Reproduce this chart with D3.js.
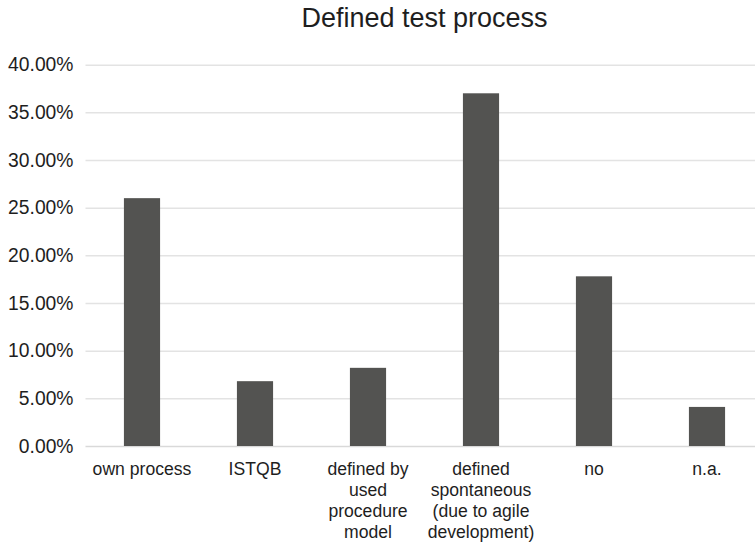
<!DOCTYPE html>
<html>
<head>
<meta charset="utf-8">
<script src="https://cdn.jsdelivr.net/npm/d3@7"></script>
<style>
  html, body { margin: 0; padding: 0; background: #fff; }
  svg { display: block; font-family: "Liberation Sans", Arial, Helvetica, sans-serif; }
</style>
</head>
<body>
<svg id="chart" width="755" height="545"></svg>
<script>
// Survey answers: how is the test process defined?
const categories = [
  "own process",
  "ISTQB",
  "defined by\nused\nprocedure\nmodel",
  "defined\nspontaneous\n(due to agile\ndevelopment)",
  "no",
  "n.a."
];
const shares = [0.260, 0.068, 0.082, 0.370, 0.178, 0.041];
const yTicks = [0, 0.05, 0.10, 0.15, 0.20, 0.25, 0.30, 0.35, 0.40];
const title = "Defined test process";

const svg = d3.select("#chart");
const plot = { left: 85.5, right: 763.5, top: 64.7, bottom: 446 };

const x = d3.scaleBand()
  .domain(categories)
  .range([plot.left, plot.right])
  .paddingInner(0.68)
  .paddingOuter(0.34);

const y = d3.scaleLinear()
  .domain([0, 0.4])
  .range([plot.bottom, plot.top]);

// Horizontal gridlines with percentage labels
const yAxis = svg.append("g")
  .attr("transform", `translate(${plot.left},0)`)
  .call(d3.axisLeft(y)
    .tickValues(yTicks)
    .tickFormat(d3.format(".2%"))
    .tickSize(-(plot.right - plot.left))
    .tickPadding(12));
yAxis.select(".domain").remove();
yAxis.selectAll(".tick line")
  .attr("stroke", d => d === 0 ? "#d9d9d9" : "#e3e3e3")
  .attr("stroke-width", 1.5);
yAxis.selectAll(".tick text")
  .attr("fill", "#1e1e1e")
  .style("font-size", "19.3px");

// Bars
svg.append("g")
  .selectAll("rect")
  .data(categories.map((c, i) => ({ c, v: shares[i] })))
  .join("rect")
  .attr("x", d => x(d.c))
  .attr("width", x.bandwidth())
  .attr("y", d => y(d.v))
  .attr("height", d => y(0) - y(d.v))
  .attr("fill", "#535351");

// Category labels, one tspan per line
const xAxis = svg.append("g")
  .attr("transform", `translate(0,${plot.bottom})`)
  .call(d3.axisBottom(x).tickSize(0).tickPadding(0));
xAxis.select(".domain").remove();
xAxis.selectAll(".tick text")
  .attr("fill", "#1e1e1e")
  .attr("y", 0)
  .attr("dy", null)
  .style("font-size", "17.6px")
  .each(function (d) {
    const t = d3.select(this);
    t.text(null);
    d.split("\n").forEach((line, i) => {
      t.append("tspan")
        .attr("x", 0)
        .attr("y", 28.5 + i * 21.3)
        .text(line);
    });
  });

// Title
svg.append("text")
  .attr("x", (plot.left + plot.right) / 2)
  .attr("y", 27)
  .attr("text-anchor", "middle")
  .attr("fill", "#1e1e1e")
  .style("font-size", "27px")
  .text(title);
</script>
</body>
</html>
